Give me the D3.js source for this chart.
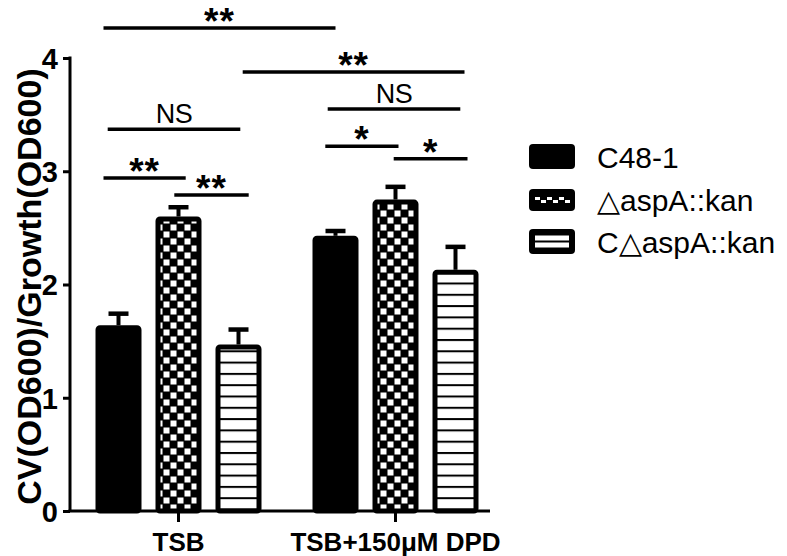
<!DOCTYPE html>
<html><head><meta charset="utf-8">
<script src="https://cdn.jsdelivr.net/npm/d3@7"></script>
<style>body{margin:0;background:#fff}svg{display:block}text{font-family:"Liberation Sans",Arial,sans-serif}</style>
</head><body>
<script>
const groups = ["TSB", "TSB+150μM DPD"];
const series = ["C48-1", "△aspA::kan", "C△aspA::kan"];
const means = [[1.64, 2.60, 1.47], [2.43, 2.75, 2.13]];
const errs = [[0.12, 0.10, 0.15], [0.06, 0.13, 0.22]];
const yTicks = [0, 1, 2, 3, 4];
const yLabel = "CV(OD600)/Growth(OD600)";
// significance brackets: [groupFrom, slotFrom, groupTo, slotTo, yValue, label]
const sigs = [
  [0, -0.25, 1, 0.0, 4.265, "**"],
  [0, 2.07, 1, 2.15, 3.876, "**"],
  [1, -0.13, 1, 2.08, 3.55, "NS"],
  [1, -0.17, 1, 1.05, 3.22, "*"],
  [1, 0.97, 1, 2.2, 3.11, "*"],
  [0, -0.18, 0, 2.03, 3.37, "NS"],
  [0, -0.25, 0, 1.12, 2.94, "**"],
  [0, 0.93, 0, 2.17, 2.79, "**"]
];

const W = 787, H = 556;
const svg = d3.select("body").append("svg").attr("width", W).attr("height", H);
const defs = svg.append("defs");
// checker pattern
const pc = defs.append("pattern").attr("id", "checker").attr("patternUnits", "userSpaceOnUse")
  .attr("width", 14).attr("height", 14).attr("x", 2).attr("y", 0);
pc.append("rect").attr("width", 14).attr("height", 14).attr("fill", "#000");
pc.append("rect").attr("x", 0.5).attr("y", 0.5).attr("width", 6).attr("height", 6).attr("fill", "#fff");
pc.append("rect").attr("x", 7.5).attr("y", 7.5).attr("width", 6).attr("height", 6).attr("fill", "#fff");
// stripe pattern
const ps = defs.append("pattern").attr("id", "stripes").attr("patternUnits", "userSpaceOnUse")
  .attr("width", 20).attr("height", 11.3).attr("y", 0);
ps.append("rect").attr("width", 20).attr("height", 11.3).attr("fill", "#fff");
ps.append("rect").attr("y", 0).attr("width", 20).attr("height", 2).attr("fill", "#000");
const fills = ["#000", "url(#checker)", "url(#stripes)"];

const y = d3.scaleLinear().domain([0, 4]).range([511, 58]);
const xG = d3.scaleBand().domain(groups).range([70, 504]).padding(0);
const xS = d3.scaleBand().domain(series).range([18.5, 198.5]).paddingInner(14 / 60).paddingOuter(7 / 60);
const slotStep = xS.step();
function slotX(g, s) {
  return xG(groups[g]) + xS(series[0]) + xS.bandwidth() / 2 + s * slotStep;
}

const sw = 5;
// bars
groups.forEach((g, gi) => {
  series.forEach((s, si) => {
    const x0 = xG(g) + xS(s);
    const v = means[gi][si], e = errs[gi][si];
    const cx = x0 + xS.bandwidth() / 2;
    // error bar
    svg.append("line").attr("x1", cx).attr("x2", cx).attr("y1", y(v)).attr("y2", y(v + e) + 2)
      .attr("stroke", "#000").attr("stroke-width", 4);
    svg.append("line").attr("x1", cx - 10).attr("x2", cx + 10).attr("y1", y(v + e) + 2).attr("y2", y(v + e) + 2)
      .attr("stroke", "#000").attr("stroke-width", 4.5);
    svg.append("rect")
      .attr("x", x0 + sw / 2).attr("y", y(v) + sw / 2)
      .attr("width", xS.bandwidth() - sw).attr("height", y(0) - y(v) - sw / 2)
      .attr("rx", 2)
      .attr("fill", fills[si]).attr("stroke", "#000").attr("stroke-width", sw)
      .attr("stroke-linejoin", "round");
  });
});

// y axis
const ya = svg.append("g").attr("transform", "translate(70,0)")
  .call(d3.axisLeft(y).tickValues(yTicks).tickFormat(d3.format("d")).tickSize(7).tickPadding(5));
ya.select(".domain").attr("stroke-width", 3).attr("d", `M0,${y(4) - 1.5}V${y(0)}`);
ya.selectAll(".tick line").attr("stroke-width", 3);
ya.selectAll(".tick text").attr("font-size", 29).attr("font-weight", "bold").attr("fill", "#000")
  .attr("dy", "0.36em");

// x axis
const xa = svg.append("g").attr("transform", "translate(0,511)")
  .call(d3.axisBottom(xG).tickSize(11).tickPadding(8));
xa.select(".domain").attr("stroke-width", 3).attr("d", "M68.5,0H490");
xa.selectAll(".tick line").attr("stroke-width", 3);
xa.selectAll(".tick text").attr("font-size", 26).attr("font-weight", "bold").attr("fill", "#000")
  .attr("dy", "0.82em");

// y label
svg.append("text").attr("transform", `translate(41,${(y(0) + y(4)) / 2 + 2}) rotate(-90)`)
  .attr("text-anchor", "middle").attr("font-size", 34).attr("font-weight", "bold").text(yLabel);

// significance
sigs.forEach(([g1, s1, g2, s2, v, lab]) => {
  const x1 = slotX(g1, s1), x2 = slotX(g2, s2), yy = y(v);
  svg.append("line").attr("x1", x1).attr("x2", x2).attr("y1", yy).attr("y2", yy)
    .attr("stroke", "#000").attr("stroke-width", 3.5);
  const isStar = lab.indexOf("*") >= 0;
  svg.append("text").attr("x", (x1 + x2) / 2).attr("y", isStar ? yy + 6 : yy - 6)
    .attr("text-anchor", "middle")
    .attr("font-size", isStar ? 37 : 27)
    .attr("font-weight", isStar ? "bold" : "normal")
    .attr("letter-spacing", isStar ? "1px" : "-0.5px")
    .text(lab);
});

// legend
const lg = svg.append("g");
const rowY = [156.5, 200, 241.5];
series.forEach((s, i) => {
  const gy = rowY[i];
  const bx = 529, bw = 46, bh = i === 1 ? 22 : 25;
  lg.append("rect").attr("x", bx).attr("y", gy - bh / 2).attr("width", bw).attr("height", bh)
    .attr("rx", 4).attr("fill", "#000");
  if (i === 1) {
    for (let k = 0; k < 6; k++) {
      lg.append("rect").attr("x", bx + 6 + k * 6).attr("y", gy - 2 + (k % 2 ? 2 : -1)).attr("width", 5).attr("height", 3)
        .attr("fill", "#fff");
    }
  } else if (i === 2) {
    lg.append("rect").attr("x", bx + 6).attr("y", gy - 6).attr("width", bw - 12).attr("height", 5).attr("fill", "#fff");
    lg.append("rect").attr("x", bx + 6).attr("y", gy + 1).attr("width", bw - 12).attr("height", 5).attr("fill", "#fff");
  }
  lg.append("text").attr("x", 597).attr("y", gy + 11).attr("font-size", 30).text(s);
});
</script>
</body></html>
